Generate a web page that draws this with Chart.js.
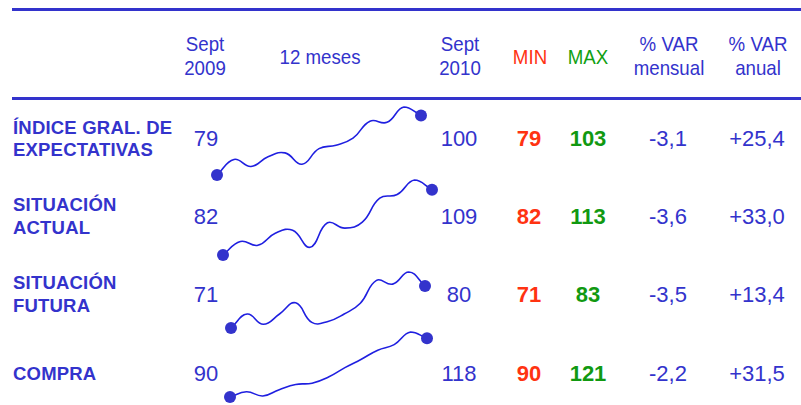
<!DOCTYPE html>
<html>
<head>
<meta charset="utf-8">
<script src="https://cdn.jsdelivr.net/npm/chart.js@4.4.1/dist/chart.umd.min.js"></script>
<style>
  html, body { margin:0; padding:0; background:#fff; }
  body { width:801px; height:405px; position:relative; overflow:hidden; font-family:"Liberation Sans", Arial, sans-serif; color:#3333cc; }
  .rule { position:absolute; left:12px; width:789px; height:3px; background:#3333cc; }
  .t { position:absolute; white-space:nowrap; line-height:1; transform:translate(-50%,-50%); }
  .h { font-size:21px; transform:translate(-50%,-50%) scaleX(0.89); }
  .lab { position:absolute; white-space:nowrap; line-height:1; left:13px; font-weight:bold; font-size:18.5px; letter-spacing:0.2px; transform:translateY(-50%); }
  .v { font-size:22px; }
  .b { font-weight:bold; }
  canvas { position:absolute; }
</style>
</head>
<body>
<div class="rule" style="top:8px"></div>
<div class="rule" style="top:97px"></div>
<div id="root"></div>
<script>
// ---- data ----
const months = ['sep 09','oct','nov','dic','ene','feb','mar','abr','may','jun','jul','ago','sep 10'];
const labelLines = [['ÍNDICE GRAL. DE','EXPECTATIVAS'],['SITUACIÓN','ACTUAL'],['SITUACIÓN','FUTURA'],['COMPRA']];
const startVals = ['79','82','71','90'];
const endVals = ['100','109','80','118'];
const minVals = ['79','82','71','90'];
const maxVals = ['103','113','83','121'];
const varMensual = ['-3,1','-3,6','-3,5','-2,2'];
const varAnual = ['+25,4','+33,0','+13,4','+31,5'];
const indice = [79, 84.5, 82, 85.4, 86.8, 82.8, 88.3, 89.5, 92, 98, 97.6, 103, 100];
const actual = [82, 87.6, 86, 91, 92.2, 85.2, 95.3, 93.1, 95.6, 105.5, 107, 113, 109];
const futura = [71, 74, 71.8, 74, 76.4, 72.2, 72.4, 74, 76.3, 81.2, 80.4, 83, 80];
const compra = [90, 92.5, 90.5, 93.5, 96, 96.6, 99.5, 104, 108, 112.3, 115, 121, 118];
const headers = [
  {lines:['Sept','2009'], x:205},
  {lines:['12 meses'], x:320},
  {lines:['Sept','2010'], x:460},
  {lines:['MIN'], x:530, color:'#ff3311'},
  {lines:['MAX'], x:588, color:'#11a011'},
  {lines:['% VAR','mensual'], x:669},
  {lines:['% VAR','anual'], x:758}
];
const series = [indice, actual, futura, compra];

// ---- layout ----
const root = document.getElementById('root');
function add(cls, text, x, y, color) {
  const d = document.createElement('div');
  d.className = cls; d.textContent = text;
  d.style.left = x + 'px'; d.style.top = y + 'px';
  if (color) d.style.color = color;
  root.appendChild(d);
}
headers.forEach(h => {
  if (h.lines.length === 2) { add('t h', h.lines[0], h.x, 43, h.color); add('t h', h.lines[1], h.x, 67, h.color); }
  else add('t h', h.lines[0], h.x, 56, h.color);
});
const rowY = [139, 217, 295, 374];
const labY = [[128, 150], [205, 228], [283, 306], [374]];
labelLines.forEach((ls, i) => ls.forEach((l, j) => {
  const d = document.createElement('div'); d.className = 'lab'; d.textContent = l;
  d.style.top = labY[i][j] + 'px'; root.appendChild(d);
}));
rowY.forEach((y, i) => {
  add('t v', startVals[i], 206, y);
  add('t v', endVals[i], 459, y);
  add('t v b', minVals[i], 529, y, '#ff3311');
  add('t v b', maxVals[i], 588, y, '#119911');
  add('t v', varMensual[i], 668, y);
  add('t v', varAnual[i], 757, y);
});

// sparkline boxes: [left, top, width, height]
const boxes = [[207, 97, 224, 88], [213, 170, 229, 95], [221, 262, 214, 76], [220, 322, 217, 85]];
series.forEach((s, i) => {
  const c = document.createElement('canvas');
  const [l, t, w, h] = boxes[i];
  c.width = w; c.height = h; c.style.left = l + 'px'; c.style.top = t + 'px';
  c.style.width = w + 'px'; c.style.height = h + 'px';
  document.body.appendChild(c);
  const radii = s.map((v, k) => (k === 0 || k === s.length - 1) ? 6 : 0);
  new Chart(c, {
    type: 'line',
    data: { labels: months, datasets: [{
      data: s, borderColor: '#1f1fe0', borderWidth: 1.6, tension: 0.45,
      pointRadius: radii, pointBackgroundColor: '#3333cc', pointBorderColor: '#3333cc', pointBorderWidth: 0,
      clip: false, fill: false
    }]},
    options: {
      responsive: false, animation: false, devicePixelRatio: 1,
      layout: { padding: 10 },
      plugins: { legend: { display: false }, tooltip: { enabled: false } },
      scales: {
        x: { display: false, offset: false },
        y: { display: false, min: Math.min(...s), max: Math.max(...s) }
      }
    }
  });
});
</script>
</body>
</html>
